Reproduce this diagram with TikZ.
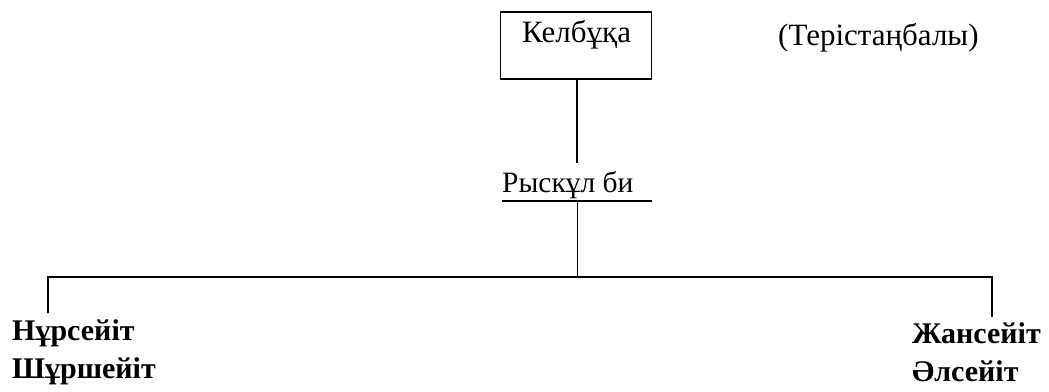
\documentclass[tikz,border=0pt]{standalone}
\usepackage{fontspec}
\setmainfont{Liberation Serif}
\begin{document}
\begin{tikzpicture}[x=1pt,y=-1pt,
  line/.style={draw=black,line width=1.2pt},
  lbl/.style={inner sep=0pt,anchor=base west,font=\fontsize{31}{34}\selectfont},
  blbl/.style={inner sep=0pt,anchor=base west,font=\fontsize{30}{33}\selectfont\bfseries}]
\useasboundingbox (0,0) rectangle (1049,391);
\node[draw=black,line width=1.2pt,minimum width=151pt,minimum height=67pt,inner sep=0pt] (box) at (576,45.5) {};
\node[lbl] (kel) at (522,42) {Келбұқа};
\node[lbl] (ter) at (778,45) {(Терістаңбалы)};
\node[lbl,font=\fontsize{29.5}{32}\selectfont] (rys) at (502,192) {Рыскұл би};
\coordinate (ulA) at (502,201);
\coordinate (ulB) at (652,201);
\coordinate (top) at (577,201);
\coordinate (mid) at (577,277);
\coordinate (hl) at (48,277);
\coordinate (hr) at (992,277);
\coordinate (vl) at (48,313);
\coordinate (vr) at (992,317);
\coordinate (rysT) at (577,163);
\draw[line] (box.south -| rysT) -- (rysT);
\draw[line] (ulA) -- (ulB);
\draw[line,line width=1pt] (top) -- (mid);
\draw[line] (vl) -- (hl) -- (hr) -- (vr);
\node[blbl] (n1) at (12,340) {Нұрсейіт};
\node[blbl] (n2) at (12,378) {Шұршейіт};
\node[blbl] (n3) at (912,343) {Жансейіт};
\node[blbl] (n4) at (912,381) {Әлсейіт};
\end{tikzpicture}
\end{document}
